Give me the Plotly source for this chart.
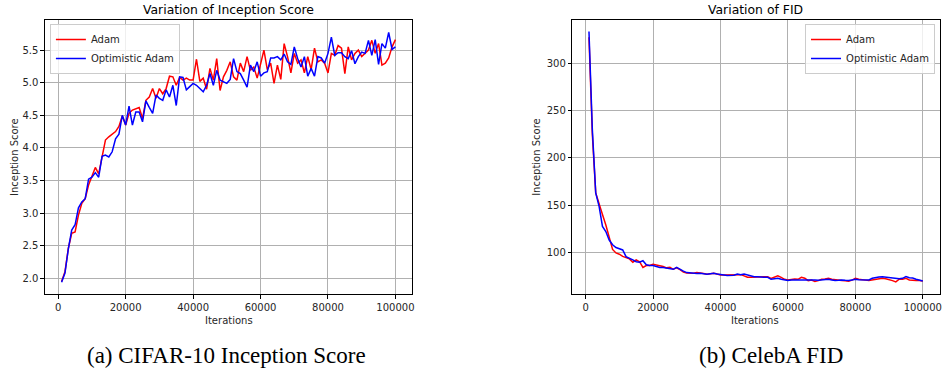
import plotly.graph_objects as go

W, H = 944, 370

iterations = [1000 * i for i in range(1, 101)]

is_adam = [1.95, 2.10, 2.46, 2.69, 2.71, 2.97, 3.15, 3.22, 3.43, 3.56,
           3.70, 3.60, 3.86, 4.12, 4.17, 4.21, 4.25, 4.33, 4.49, 4.35,
           4.53, 4.58, 4.60, 4.62, 4.45, 4.73, 4.78, 4.91, 4.76, 4.91,
           4.83, 4.91, 5.10, 5.09, 4.96, 5.08, 5.04, 5.07, 5.04, 5.04,
           5.36, 5.02, 5.07, 4.90, 5.22, 5.04, 5.37, 4.88, 5.09, 5.19,
           5.32, 5.09, 5.04, 5.30, 5.17, 5.40, 5.19, 5.24, 5.07, 5.27,
           5.50, 5.20, 5.30, 4.99, 5.27, 5.05, 5.60, 5.40, 5.15, 5.45,
           5.30, 5.35, 5.15, 5.40, 5.20, 5.53, 5.32, 5.35, 5.30, 5.15,
           5.45, 5.42, 5.57, 5.53, 5.14, 5.55, 5.35, 5.45, 5.50, 5.40,
           5.45, 5.50, 5.65, 5.45, 5.60, 5.27, 5.30, 5.38, 5.55, 5.66]

is_optimistic = [1.94, 2.08, 2.45, 2.74, 2.82, 3.08, 3.17, 3.22, 3.52, 3.55,
                 3.62, 3.55, 3.87, 3.89, 3.86, 3.94, 4.14, 4.21, 4.50, 4.35,
                 4.64, 4.35, 4.55, 4.55, 4.40, 4.72, 4.62, 4.53, 4.81, 4.76,
                 4.73, 4.89, 4.78, 4.96, 4.65, 5.09, 5.08, 4.89, 4.94, 4.99,
                 4.96, 4.91, 4.86, 4.96, 5.14, 4.96, 5.19, 5.04, 5.02, 4.99,
                 5.05, 5.37, 5.17, 5.14, 5.04, 4.93, 5.27, 5.17, 5.32, 5.10,
                 5.15, 5.17, 5.38, 5.38, 5.40, 5.35, 5.44, 5.32, 5.28, 5.55,
                 5.37, 5.24, 5.40, 5.10, 5.22, 5.10, 5.40, 5.38, 5.30, 5.45,
                 5.70, 5.42, 5.46, 5.46, 5.40, 5.37, 5.49, 5.29, 5.40, 5.47,
                 5.45, 5.65, 5.42, 5.66, 5.28, 5.60, 5.53, 5.77, 5.51, 5.55]

fid_adam = [328, 225, 163, 150, 140, 129, 115, 103, 99.3, 98,
            95.7, 94, 93, 89.5, 92, 90, 84, 86, 86, 87.4,
            86.7, 86, 85, 83.5, 84, 82, 83.5, 81.6, 79, 78,
            78, 77.7, 78.5, 78.4, 77.5, 76.7, 77.5, 77.7, 77, 76,
            76, 76, 75.6, 75.6, 76, 76.3, 75, 73.5, 73.5, 73.5,
            73.5, 73.5, 73.8, 74.2, 72.4, 73.5, 75, 73.5, 71.4, 70.7,
            71.4, 71.7, 71.4, 73.5, 72.5, 70, 70.5, 69, 70, 71.4,
            71.8, 72.4, 71.4, 70.7, 70.5, 70, 69.8, 69.3, 70.5, 72.4,
            71.5, 70.7, 70.5, 70, 70.7, 71.4, 72, 72.4, 72, 71.4,
            70, 68.6, 71.4, 71.4, 72.4, 70.7, 70, 70, 70, 69.6]

fid_optimistic = [334, 230, 163, 148.6, 127.4, 122, 113, 108, 105, 103.5,
                  102.5, 95.4, 94, 92, 90, 89.4, 91, 86.7, 86, 86,
                  85, 84, 84, 83.5, 83, 82, 84, 81.6, 80, 78.5,
                  78, 77.7, 77.5, 77.7, 77, 76.7, 77.3, 77.7, 77, 76.7,
                  76, 75.3, 75.5, 75.6, 77, 76.3, 77, 76, 75, 74.2,
                  74, 73.5, 73.5, 73.5, 71.4, 72, 72.4, 71.4, 70.7, 70,
                  70.7, 70.7, 71.4, 71.4, 71, 70.7, 71, 70.7, 70.5, 70.7,
                  71, 71.4, 70.7, 70, 70.3, 70.7, 70.3, 70, 70.7, 71.4,
                  71, 70.7, 71, 70.7, 72.4, 73.5, 73.8, 74.2, 73.8, 73.5,
                  72.4, 72, 72, 72.4, 74.2, 73, 72.8, 71.4, 70.7, 69.6]

series_names = ["Adam", "Optimistic Adam"]
series_colors = ["#ff0000", "#0000ff"]

x_ticks = [0, 20000, 40000, 60000, 80000, 100000]
is_ticks = [2.0, 2.5, 3.0, 3.5, 4.0, 4.5, 5.0, 5.5]
fid_ticks = [100, 150, 200, 250, 300]

titles = ["Variation of Inception Score", "Variation of FID"]
captions = ["(a) CIFAR-10 Inception Score", "(b) CelebA FID"]
x_title = "Iterations"
y_title = "Inception Score"


def px_x(p):
    return p / W


def px_y(p):
    return 1 - p / H


fig = go.Figure()

for name, col, ys in zip(series_names, series_colors, [is_adam, is_optimistic]):
    fig.add_trace(go.Scatter(x=iterations, y=ys, mode="lines", name=name,
                             line=dict(color=col, width=1.5),
                             xaxis="x", yaxis="y", legend="legend"))
for name, col, ys in zip(series_names, series_colors, [fid_adam, fid_optimistic]):
    fig.add_trace(go.Scatter(x=iterations, y=ys, mode="lines", name=name,
                             line=dict(color=col, width=1.5),
                             xaxis="x2", yaxis="y2", legend="legend2"))

tickfont = dict(family="DejaVu Sans", size=10, color="#262626")
axis_common = dict(showline=True, linecolor="black", linewidth=1, mirror=True,
                   ticks="outside", ticklen=3.5, tickcolor="black",
                   showgrid=True, gridcolor="#b0b0b0", gridwidth=1,
                   zeroline=False, tickfont=tickfont)

legend_common = dict(yanchor="top", bgcolor="rgba(255,255,255,0.8)",
                     bordercolor="#cccccc", borderwidth=1,
                     font=dict(family="DejaVu Sans", size=10, color="#262626"),
                     itemwidth=30, tracegroupgap=0)

xr = [-3950, 104950]
fig.update_layout(
    width=W, height=H,
    margin=dict(l=0, r=0, t=0, b=0),
    paper_bgcolor="white", plot_bgcolor="white",
    xaxis=dict(domain=[px_x(45), px_x(413)], range=xr, tickvals=x_ticks,
               ticktext=[str(v) for v in x_ticks], anchor="y", **axis_common),
    yaxis=dict(domain=[px_y(294), px_y(20)], range=[1.758, 5.962],
               tickvals=is_ticks, ticktext=[f"{v:.1f}" for v in is_ticks],
               anchor="x", **axis_common),
    xaxis2=dict(domain=[px_x(573.5), px_x(941.5)], range=xr, tickvals=x_ticks,
                ticktext=[str(v) for v in x_ticks], anchor="y2", **axis_common),
    yaxis2=dict(domain=[px_y(294), px_y(20)], range=[55.8, 346.2],
                tickvals=fid_ticks, ticktext=[str(v) for v in fid_ticks],
                anchor="x2", **axis_common),
    legend=dict(x=px_x(50), y=px_y(24), xanchor="left", **legend_common),
    legend2=dict(x=px_x(937), y=px_y(24), xanchor="right", **legend_common),
    showlegend=True,
)

ann = []
for cx, t in zip([229, 757], titles):
    ann.append(dict(x=px_x(cx), y=px_y(10), xref="paper", yref="paper", text=t,
                    showarrow=False, xanchor="center", yanchor="middle",
                    font=dict(family="DejaVu Sans", size=12.4, color="black")))
for cx in [229, 757]:
    ann.append(dict(x=px_x(cx), y=px_y(320), xref="paper", yref="paper", text=x_title,
                    showarrow=False, xanchor="center", yanchor="middle",
                    font=dict(family="DejaVu Sans", size=10, color="#262626")))
for cx in [14, 537]:
    ann.append(dict(x=px_x(cx), y=px_y(157), xref="paper", yref="paper", text=y_title,
                    showarrow=False, xanchor="center", yanchor="middle", textangle=-90,
                    font=dict(family="DejaVu Sans", size=10, color="#262626")))
for cx, t in zip([227, 773], captions):
    ann.append(dict(x=px_x(cx), y=px_y(355), xref="paper", yref="paper", text=t,
                    showarrow=False, xanchor="center", yanchor="middle",
                    font=dict(family="Liberation Serif", size=23, color="black")))
fig.update_layout(annotations=ann)

fig.write_html("out.html",
               config={"displayModeBar": False},
               post_script="document.body.style.margin='0px';"
                           "document.body.style.overflow='hidden';")
